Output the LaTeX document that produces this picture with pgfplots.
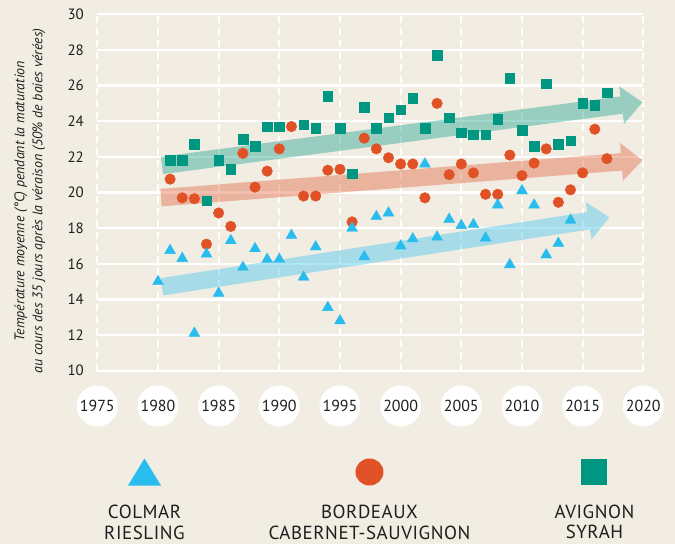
\documentclass[border=0pt]{standalone}
\usepackage{pgfplots}
\pgfplotsset{compat=1.18}
\usetikzlibrary{arrows.meta}
\usepackage{fontspec}
\setmainfont{PT Sans}
\definecolor{bg}{HTML}{F1EDE3}
\definecolor{cteal}{HTML}{009782}
\definecolor{corange}{HTML}{E05226}
\definecolor{cblue}{HTML}{28BDEE}
\definecolor{ctext}{HTML}{1E1E1E}
\newcommand{\legtri}{\tikz\fill[cblue] (0,0)--(33bp,0)--(16.5bp,27bp)--cycle;}
\newcommand{\legcirc}{\tikz\fill[corange] (0,0) ellipse (14bp and 13.5bp);}
\newcommand{\legsq}{\tikz\fill[cteal] (0,0) rectangle (26bp,26bp);}
\newcommand{\legent}[3]{\makebox[225bp]{\begin{tabular}{@{}c@{}}#1\\[13bp]#2\\#3\end{tabular}}}
\begin{document}
\begin{tikzpicture}
\fill[bg] (-97.3bp,-173.3bp) rectangle (577.7bp,370.7bp);
\begin{axis}[
  at={(0,0)}, anchor=south west,
  scale only axis, width=546bp, height=356.4bp,
  xmin=1975, xmax=2020, ymin=10, ymax=30,
  xtick={1975,1980,...,2020}, ytick={10,12,...,30},
  axis line style={draw=none}, major tick length=0pt,
  clip=false,
  xmajorgrids, ymajorgrids,
  x grid style={white, line width=2bp, dash pattern=on 7bp off 5bp},
  y grid style={white, line width=2.3bp},
  /pgf/number format/assume math mode=true,
  /pgf/number format/1000 sep={},
  xticklabel style={circle, fill=white, minimum size=41bp, inner sep=0pt, anchor=center, yshift=-35.3bp, font=\fontsize{16}{16}\selectfont, text=ctext},
  yticklabel style={anchor=east, xshift=-13.3bp, inner sep=0pt, font=\fontsize{15}{15}\selectfont, text=ctext},
  ylabel={Température moyenne (°C) pendant la maturation\\au cours des 35 jours après la véraison (50\% de baies vérées)},
  ylabel style={align=center, font=\itshape\fontsize{14}{18}\selectfont, text=ctext, at={(axis description cs:-0.1233,0.476)}, anchor=center},
  reverse legend,
  legend image code/.code={},
  legend style={at={(axis description cs:0.4985,-0.2464)}, anchor=north, draw=none, fill=none, inner sep=0pt, outer sep=0pt,
    legend columns=3, /tikz/column sep=0pt, nodes={inner sep=0pt, outer sep=0pt},
    font=\fontsize{19}{20.5}\selectfont\addfontfeature{LetterSpace=3}, text=ctext},
]
% trend arrows
\addplot[forget plot, line width=17.5bp, color=cblue, opacity=0.37, -{Triangle[length=21bp,width=38bp,line width=0pt]}]
  coordinates {(1980.33,14.71) (2017.2,18.6)};
\addplot[forget plot, line width=17.5bp, color=corange, opacity=0.37, -{Triangle[length=21bp,width=38bp,line width=0pt]}]
  coordinates {(1980.25,19.71) (2019.93,21.81)};
\addplot[forget plot, line width=17.5bp, color=cteal, opacity=0.37, -{Triangle[length=21bp,width=38bp,line width=0pt]}]
  coordinates {(1980.33,21.52) (2019.93,25.06)};
% Avignon Syrah
\addplot[only marks, color=cteal, mark=square*, mark size=4.8bp, mark options={solid, fill=cteal, draw=cteal}] coordinates {
(1981,21.8) (1982,21.8) (1983,22.7) (1984,19.55) (1985,21.8) (1986,21.3) (1987,23.0) (1988,22.6)
(1989,23.7) (1990,23.7) (1992,23.8) (1993,23.6) (1994,25.4) (1995,23.6) (1996,21.05) (1997,24.8)
(1998,23.6) (1999,24.2) (2000,24.65) (2001,25.3) (2002,23.6) (2003,27.7) (2004,24.2) (2005,23.35)
(2006,23.25) (2007,23.25) (2008,24.1) (2009,26.4) (2010,23.5) (2011,22.6) (2012,26.1) (2013,22.7)
(2014,22.9) (2015,25.0) (2016,24.9) (2017,25.6)};
\addlegendentry{\legent{\legsq}{AVIGNON}{SYRAH}}
% Bordeaux Cabernet-Sauvignon
\addplot[only marks, color=corange, mark=*, mark size=5.3bp, mark options={solid, fill=corange, draw=corange}] coordinates {
(1981,20.75) (1982,19.7) (1983,19.65) (1984,17.1) (1985,18.85) (1986,18.1) (1987,22.2) (1988,20.3)
(1989,21.2) (1990,22.45) (1991,23.7) (1992,19.8) (1993,19.8) (1994,21.25) (1995,21.3) (1996,18.35)
(1997,23.05) (1998,22.45) (1999,21.95) (2000,21.6) (2001,21.6) (2002,19.7) (2003,25.0) (2004,21.0)
(2005,21.6) (2006,21.1) (2007,19.9) (2008,19.9) (2009,22.1) (2010,20.95) (2011,21.65) (2012,22.45)
(2013,19.45) (2014,20.15) (2015,21.1) (2016,23.55) (2017,21.9)};
\addlegendentry{\legent{\legcirc}{BORDEAUX}{CABERNET-SAUVIGNON}}
% Colmar Riesling
\addplot[only marks, color=cblue, mark=triangle*, mark size=6.3bp, mark options={solid, fill=cblue, draw=cblue}] coordinates {
(1980,15.0) (1981,16.75) (1982,16.3) (1983,12.1) (1984,16.55) (1985,14.35) (1986,17.3) (1987,15.8)
(1988,16.85) (1989,16.25) (1990,16.25) (1991,17.6) (1992,15.25) (1993,16.95) (1994,13.55) (1995,12.8)
(1996,18.0) (1997,16.4) (1998,18.65) (1999,18.85) (2000,17.0) (2001,17.4) (2002,21.6) (2003,17.5)
(2004,18.5) (2005,18.15) (2006,18.2) (2007,17.45) (2008,19.3) (2009,15.95) (2010,20.1) (2011,19.3)
(2012,16.5) (2013,17.15) (2014,18.45)};
\addlegendentry{\legent{\legtri}{COLMAR}{RIESLING}}
\end{axis}
\pgfresetboundingbox
\useasboundingbox (-97.3bp,-173.3bp) rectangle (577.7bp,370.7bp);
\end{tikzpicture}
\end{document}
